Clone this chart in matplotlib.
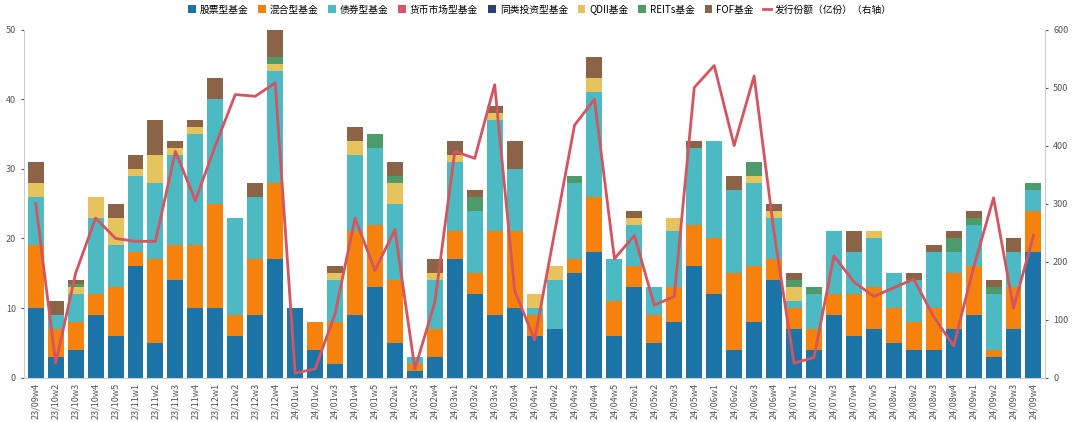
import matplotlib.pyplot as plt
from matplotlib import font_manager
import numpy as np

cjk = [f.name for f in font_manager.fontManager.ttflist if "CJK" in f.name]
print(sorted(set(cjk)))
plt.rcParams["font.family"] = sorted(set(cjk))[:1] + ["DejaVu Sans"]

weeks = ["23/09w4", "23/10w2", "23/10w3", "23/10w4", "23/10w5", "23/11w1", "23/11w2", "23/11w3",
         "23/11w4", "23/12w1", "23/12w2", "23/12w3", "23/12w4", "24/01w1", "24/01w2", "24/01w3",
         "24/01w4", "24/01w5", "24/02w1", "24/02w3", "24/02w4", "24/03w1", "24/03w2", "24/03w3",
         "24/03w4", "24/04w1", "24/04w2", "24/04w3", "24/04w4", "24/04w5", "24/05w1", "24/05w2",
         "24/05w3", "24/05w4", "24/06w1", "24/06w2", "24/06w3", "24/06w4", "24/07w1", "24/07w2",
         "24/07w3", "24/07w4", "24/07w5", "24/08w1", "24/08w2", "24/08w3", "24/08w4", "24/09w1",
         "24/09w2", "24/09w3", "24/09w4"]

stock = [10, 3, 4, 9, 6, 16, 5, 14, 10, 10, 6, 9, 17, 10, 4, 2, 9, 13, 5, 1, 3, 17, 12, 9, 10, 6,
         7, 15, 18, 6, 13, 5, 8, 16, 12, 4, 8, 14, 7, 4, 9, 6, 7, 5, 4, 4, 7, 9, 3, 7, 18]
mixed = [9, 4, 4, 3, 7, 2, 12, 5, 9, 15, 3, 8, 11, 0, 4, 6, 12, 9, 9, 1, 4, 4, 3, 12, 11, 3,
         0, 2, 8, 5, 3, 4, 5, 6, 8, 11, 8, 3, 3, 3, 3, 6, 6, 5, 4, 6, 8, 7, 1, 6, 6]
bond = [7, 2, 4, 11, 6, 11, 11, 13, 16, 15, 14, 9, 16, 0, 0, 6, 11, 11, 11, 1, 7, 10, 9, 16, 9, 1,
        7, 11, 15, 6, 6, 4, 8, 11, 14, 12, 12, 6, 1, 5, 9, 6, 7, 5, 6, 8, 3, 6, 8, 5, 3]
money = [0] * 51
other = [0] * 51
qdii = [2, 0, 1, 3, 4, 1, 4, 1, 1, 0, 0, 0, 1, 0, 0, 1, 2, 0, 3, 0, 1, 1, 0, 1, 0, 2,
        2, 0, 2, 0, 1, 0, 2, 0, 0, 0, 1, 1, 2, 0, 0, 0, 1, 0, 0, 0, 0, 0, 0, 0, 0]
reits = [0, 0, 0.5, 0, 0, 0, 0, 0, 0, 0, 0, 0, 1, 0, 0, 0, 0, 2, 1, 0, 0, 0, 2, 0, 0, 0,
         0, 1, 0, 0, 0, 0, 0, 0, 0, 0, 2, 0, 1, 1, 0, 0, 0, 0, 0, 0, 2, 1, 1, 0, 1]
fof = [3, 2, 0.5, 0, 2, 2, 5, 1, 1, 3, 0, 2, 4, 0, 0, 1, 2, 0, 2, 0, 2, 2, 1, 1, 4, 0,
       0, 0, 3, 0, 1, 0, 0, 1, 0, 2, 0, 1, 1, 0, 0, 3, 0, 0, 1, 1, 1, 1, 1, 2, 0]
issue = [300, 25, 180, 275, 240, 235, 235, 390, 305, 400, 488, 485, 508, 8, 15, 110, 275, 185,
         255, 15, 130, 390, 378, 505, 150, 65, 250, 435, 480, 205, 245, 125, 140, 500, 538,
         400, 520, 250, 25, 35, 210, 165, 140, 155, 170, 105, 55, 190, 310, 120, 245]

series = [("股票型基金", stock, "#1b73a6"), ("混合型基金", mixed, "#f5820d"),
          ("债券型基金", bond, "#4cb9c3"), ("货币市场型基金", money, "#d2566a"),
          ("同类投资型基金", other, "#2d3f6e"), ("QDII基金", qdii, "#e6c35c"),
          ("REITs基金", reits, "#4f9a6a"), ("FOF基金", fof, "#8b6447")]

fig, ax = plt.subplots(figsize=(10.8, 4.22), dpi=100)
fig.subplots_adjust(left=0.022, right=0.968, top=0.93, bottom=0.105)
x = np.arange(len(weeks))
bottom = np.zeros(len(weeks))
for name, vals, color in series:
    vals = np.array(vals, dtype=float)
    ax.bar(x, vals, 0.8, bottom=bottom, color=color, label=name)
    bottom += vals

ax.set_ylim(0, 50)
ax.set_xlim(-0.6, len(weeks) - 0.4)
ax.set_yticks(range(0, 51, 10))
ax.set_xticks(x)
ax.set_xticklabels(weeks, rotation=90, fontsize=6.5, color="#555555")
ax.tick_params(axis="y", labelsize=6.5, colors="#555555", length=2)
ax.tick_params(axis="x", length=0)
for s in ["top", "right"]:
    ax.spines[s].set_visible(False)
ax.spines["left"].set_color("#cccccc")
ax.spines["bottom"].set_color("#cccccc")

ax2 = ax.twinx()
ax2.plot(x, issue, color="#d4545f", lw=2, label="发行份额（亿份）（右轴）")
ax2.set_ylim(0, 600)
ax2.set_yticks(range(0, 601, 100))
ax2.tick_params(axis="y", labelsize=6.5, colors="#555555", length=2)
for s in ["top", "left", "bottom"]:
    ax2.spines[s].set_visible(False)
ax2.spines["right"].set_color("#cccccc")

h1, l1 = ax.get_legend_handles_labels()
h2, l2 = ax2.get_legend_handles_labels()
fig.legend(h1 + h2, l1 + l2, loc="upper center", ncol=9, frameon=False, fontsize=7,
           handlelength=0.8, handleheight=0.8, columnspacing=1.0, handletextpad=0.4,
           bbox_to_anchor=(0.5, 1.01))

fig.savefig("out.png")
